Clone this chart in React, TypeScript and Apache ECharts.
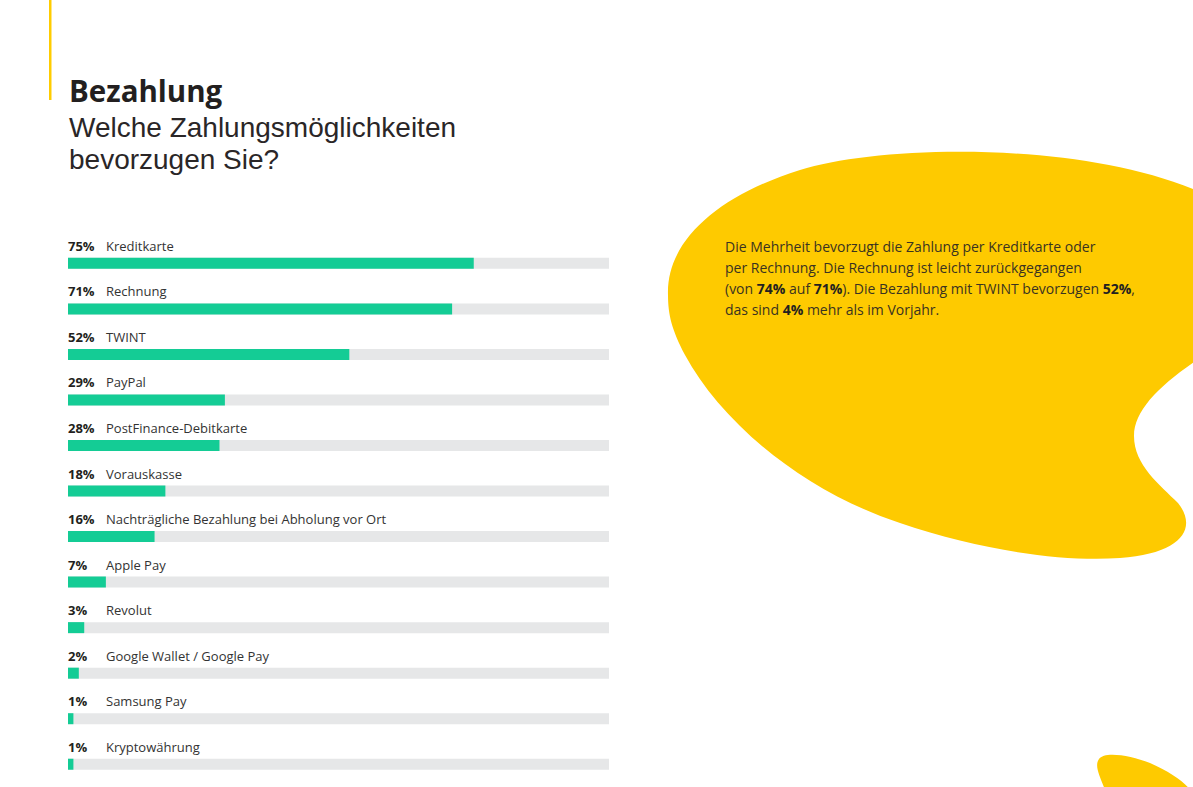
import React, { useEffect, useRef } from "react";
import * as echarts from "echarts";

const categories = [
  "Kreditkarte",
  "Rechnung",
  "TWINT",
  "PayPal",
  "PostFinance-Debitkarte",
  "Vorauskasse",
  "Nachträgliche Bezahlung bei Abholung vor Ort",
  "Apple Pay",
  "Revolut",
  "Google Wallet / Google Pay",
  "Samsung Pay",
  "Kryptowährung",
];
const values = [75, 71, 52, 29, 28, 18, 16, 7, 3, 2, 1, 1];

const titleText = "Bezahlung";
const subtitleLines = ["Welche Zahlungsmöglichkeiten", "bevorzugen Sie?"];
const noteLines = [
  "Die Mehrheit bevorzugt die Zahlung per Kreditkarte oder",
  "per Rechnung. Die Rechnung ist leicht zurückgegangen",
  "(von {b|74%} auf {b|71%}). Die Bezahlung mit TWINT bevorzugen {b|52%},",
  "das sind {b|4%} mehr als im Vorjahr.",
];

const FONT = "'Open Sans', 'Noto Sans', sans-serif";
const SUB_FONT = "'Liberation Sans', Arial, sans-serif";
const YELLOW = "#FECA00";
const GREEN = "#14CC95";
const TRACK = "#E6E7E8";
const DARK = "#231F20";

const blobPath =
  "M 668 295 C 666 240 720 195 800 170 C 880 145 1080 140 1200 192 L 1200 358 " +
  "C 1160 385 1134 410 1134 436 C 1134 465 1160 485 1178 503 " +
  "C 1198 528 1182 554 1120 558 C 1060 562 980 550 900 523 " +
  "C 800 490 720 420 685 355 C 672 330 668 315 668 295 Z";
const blob2Path =
  "M 1105 790 C 1100 776 1094 766 1099 759 C 1104 751 1130 755 1150 763 C 1170 772 1185 782 1190 790 Z";

let registered = false;
function registerShapes() {
  if (registered) return;
  registered = true;
  echarts.graphic.registerShape("blobMain", echarts.graphic.extendPath(blobPath, {}) as any);
  echarts.graphic.registerShape("blobSmall", echarts.graphic.extendPath(blob2Path, {}) as any);
}

export default function App() {
  const ref = useRef<HTMLDivElement>(null);
  useEffect(() => {
    if (!ref.current) return;
    registerShapes();
    const chart = echarts.init(ref.current, null, { renderer: "svg" });
    const option: any = {
      animation: false,
      backgroundColor: "#ffffff",
      grid: { left: 68, top: 240.6, width: 541, height: 549.8, containLabel: false },
      xAxis: { type: "value", min: 0, max: 100, show: false },
      yAxis: {
        type: "category",
        data: categories,
        inverse: true,
        show: false,
      },
      graphic: [
        { type: "blobMain", x: 0, y: 0, z: -10, style: { fill: YELLOW } },
        { type: "blobSmall", x: 0, y: 0, z: -10, style: { fill: YELLOW } },
        { type: "rect", shape: { x: 49, y: 0, width: 2.5, height: 100 }, style: { fill: "#FFCC00" } },
        {
          type: "text",
          x: 69,
          y: 90,
          style: {
            text: titleText,
            font: `bold 29.5px ${FONT}`,
            fill: DARK,
            verticalAlign: "middle",
          },
        },
        ...subtitleLines.map((t, i) => ({
          type: "text",
          x: 69,
          y: 127 + i * 32,
          style: {
            text: t,
            fontFamily: SUB_FONT,
            fontSize: 28,
            fontWeight: "normal",
            fill: "#2a2627",
            verticalAlign: "middle",
          },
        })),
        ...noteLines.map((t, i) => ({
          type: "text",
          x: 725,
          y: 246 + i * 21.3,
          style: {
            text: t,
            fontFamily: FONT,
            fontSize: 14,
            fill: "#3a3320",
            verticalAlign: "middle",
            rich: {
              b: { fontFamily: FONT, fontSize: 14, fontWeight: "bold", fill: DARK, color: DARK },
            },
          },
        })),
      ],
      series: [
        {
          type: "bar",
          data: values,
          barWidth: 11,
          itemStyle: { color: GREEN },
          showBackground: true,
          backgroundStyle: { color: TRACK },
          label: {
            show: true,
            position: [0, -12],
            align: "left",
            verticalAlign: "middle",
            formatter: (p: any) => `{p|${p.value}%}{n|${categories[p.dataIndex]}}`,
            rich: {
              p: { fontFamily: FONT, fontSize: 13, fontWeight: "bold", color: DARK, width: 38 },
              n: { fontFamily: FONT, fontSize: 13, color: "#333" },
            },
          },
        },
      ],
    };
    chart.setOption(option);
    return () => chart.dispose();
  }, []);
  return (
    <div
      ref={ref}
      style={{ position: "fixed", left: 0, top: 0, width: 1193, height: 787 }}
    />
  );
}
